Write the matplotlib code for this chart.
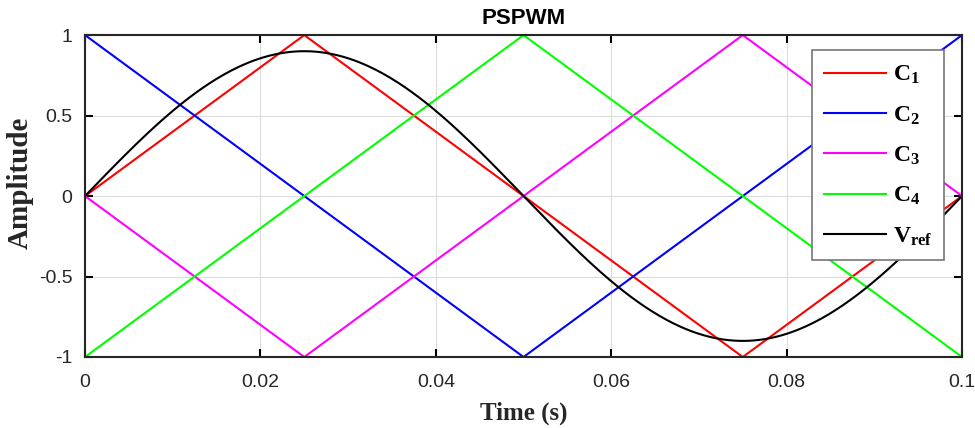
import numpy as np
import matplotlib
matplotlib.use("Agg")
import matplotlib.pyplot as plt

# triangular carriers, vertices at each quarter period
t_knots = [0.0, 0.025, 0.05, 0.075, 0.1]
c1 = [0, 1, 0, -1, 0]
c2 = [1, 0, -1, 0, 1]
c3 = [0, -1, 0, 1, 0]
c4 = [-1, 0, 1, 0, -1]

# sinusoidal reference
vref_amp = 0.9
vref_freq = 10.0

series = [
    (c1, "red", r"$\mathbf{C_1}$"),
    (c2, "blue", r"$\mathbf{C_2}$"),
    (c3, "magenta", r"$\mathbf{C_3}$"),
    (c4, "lime", r"$\mathbf{C_4}$"),
]

plt.rcParams["mathtext.fontset"] = "custom"
plt.rcParams["mathtext.bf"] = "Liberation Serif:bold"
plt.rcParams["mathtext.rm"] = "Liberation Serif"

fig = plt.figure(figsize=(9.75, 4.28), dpi=100)
ax = fig.add_axes([0.0872, 0.1659, 0.8995, 0.7521])

for ys, col, lab in series:
    ax.plot(t_knots, ys, color=col, lw=1.5, label=lab)

t = np.linspace(0, 0.1, 500)
ax.plot(t, vref_amp * np.sin(2 * np.pi * vref_freq * t), color="black",
        lw=1.5, label=r"$\mathbf{V_{ref}}$")

ax.set_xlim(0, 0.1)
ax.set_ylim(-1, 1)
ax.set_xticks([0, 0.02, 0.04, 0.06, 0.08, 0.1])
ax.set_xticklabels(["0", "0.02", "0.04", "0.06", "0.08", "0.1"])
ax.set_yticks([-1, -0.5, 0, 0.5, 1])
ax.set_yticklabels(["-1", "-0.5", "0", "0.5", "1"])
ax.grid(True, color="#dcdcdc", lw=0.8)
ax.set_axisbelow(True)
ax.tick_params(direction="in", top=True, right=True, length=6, width=1.5,
               labelsize=14, labelcolor="#262626")
ax.tick_params(axis="x", pad=12)
ax.tick_params(axis="y", pad=9)
for lbl in ax.get_xticklabels() + ax.get_yticklabels():
    lbl.set_family("Liberation Sans")
for sp in ax.spines.values():
    sp.set_linewidth(1.5)
    sp.set_color("#262626")

ax.set_xlabel("Time (s)", family="Liberation Serif", weight="bold",
              fontsize=18, labelpad=8, color="#262626")
ax.set_ylabel("Amplitude", family="Liberation Serif", weight="bold",
              fontsize=21, color="#262626")
ax.yaxis.set_label_coords(-0.058, 0.54)
ax.set_title("PSPWM", family="Liberation Sans", weight="bold", fontsize=16,
             pad=8)

leg = ax.legend(loc="upper right", bbox_to_anchor=(0.9795, 0.953),
                fontsize=17, fancybox=False, framealpha=1, handlelength=2.6,
                labelspacing=0.68, borderpad=0.5, handletextpad=0.3,
                borderaxespad=0)
leg.get_frame().set_edgecolor("#777777")
leg.get_frame().set_linewidth(1.2)

fig.savefig("out.png", dpi=100)
